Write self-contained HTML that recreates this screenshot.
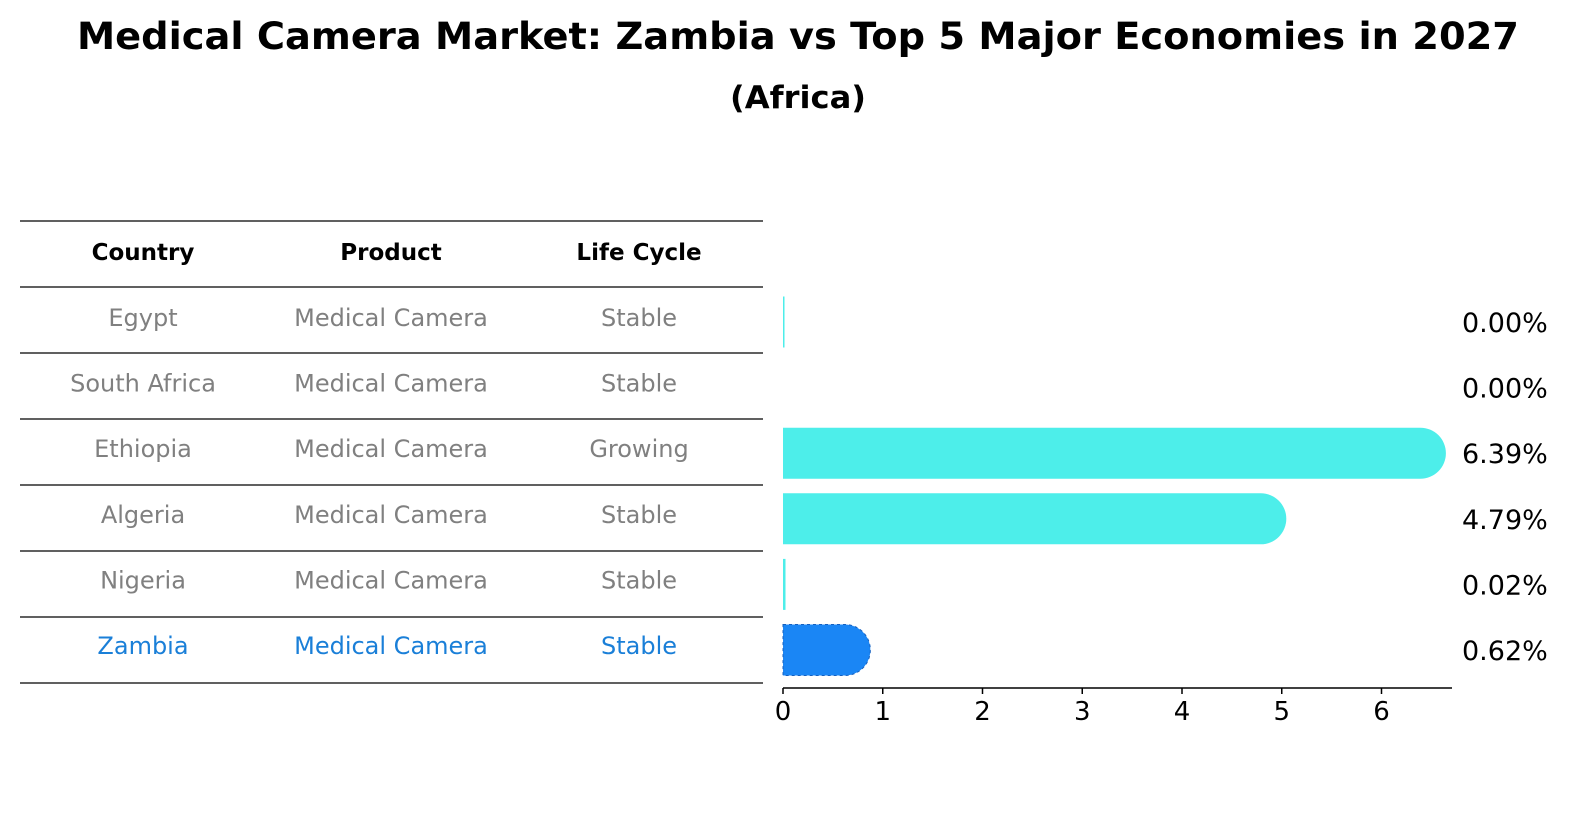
<!DOCTYPE html>
<html><head><meta charset="utf-8"><style>
body{margin:0;background:#fff;width:1586px;height:823px;overflow:hidden;font-family:"Liberation Sans","DejaVu Sans",sans-serif}
</style></head><body>
<svg width="1586" height="823" font-family="DejaVu Sans, Liberation Sans, sans-serif">
<text x="798" y="49" text-anchor="middle" font-size="37" font-weight="bold" textLength="1442" lengthAdjust="spacingAndGlyphs">Medical Camera Market: Zambia vs Top 5 Major Economies in 2027</text>
<text x="798" y="108" text-anchor="middle" font-size="31" font-weight="bold" textLength="136" lengthAdjust="spacingAndGlyphs">(Africa)</text>
<g id="table"></g>
<g id="bars"></g>
</svg>
<script>
const countries=["Egypt","South Africa","Ethiopia","Algeria","Nigeria","Zambia"];
const products=["Medical Camera","Medical Camera","Medical Camera","Medical Camera","Medical Camera","Medical Camera"];
const lifeCycles=["Stable","Stable","Growing","Stable","Stable","Stable"];
const values=[0.00,0.00,6.39,4.79,0.02,0.62];
const ticks=[0,1,2,3,4,5,6];
const NS="http://www.w3.org/2000/svg";
function mk(tag,attrs,parent,text){const e=document.createElementNS(NS,tag);for(const k in attrs)e.setAttribute(k,attrs[k]);if(text!==undefined)e.textContent=text;parent.appendChild(e);return e;}
const x0=783,pxPer=99.75;
const xs=v=>x0+v*pxPer;
const rowY=i=>322+i*65.6;
const tbl=document.getElementById('table');
const cols=[143,391,639];
const hdr=["Country","Product","Life Cycle"];
hdr.forEach((h,j)=>{const t=mk('text',{x:cols[j],y:260,'text-anchor':'middle','font-size':23,'font-weight':'bold'},tbl,h);

});
const lineYs=[221,287,353,419,485,551,617,683];
lineYs.forEach((y,k)=>{const l=mk('line',{x1:20,x2:763,y1:y,y2:y,stroke:'#000','stroke-width':1.2},tbl);

});
countries.forEach((c,i)=>{
 const col=i===5?'#1a7fd8':'#808080';
 const y=rowY(i)+4;
 [c,products[i],lifeCycles[i]].forEach((s,j)=>{
  const t=mk('text',{x:cols[j],y:y,'text-anchor':'middle','font-size':24,fill:col},tbl,s);
  
  
 });
});
const bars=document.getElementById('bars');
const bh=51,r=25.5;
values.forEach((v,i)=>{
 const cy=rowY(i),y=cy-bh/2;
 const fill=i===5?'#1a86f5':'#4deeea';
 const w=xs(v)-x0;
 if(v===0 && i!==0){}else if(w<3){
  const b=mk('rect',{x:x0,y:y,width:Math.max(w,1)+0.5,height:bh,fill:fill},bars);
  
  
 } else {
  const xe=xs(v);
  const d=`M${x0},${y} H${xe} A${r},${r} 0 0 1 ${xe},${y+bh} H${x0} Z`;
  const b=mk('path',{d:d,fill:fill},bars);
  if(i===5){b.setAttribute('stroke','#1560c0');b.setAttribute('stroke-dasharray','3,3');b.setAttribute('stroke-width','1');}
  
  
 }
 const lbl=mk('text',{x:1462,y:cy+10,'font-size':27,fill:'#000'},bars,v.toFixed(2)+'%');
 
 
});
const ax=mk('line',{x1:x0,x2:1452,y1:688,y2:688,stroke:'#000','stroke-width':1.5},bars);


ticks.forEach(t=>{
 const tl=mk('line',{x1:xs(t),x2:xs(t),y1:688,y2:694,stroke:'#000','stroke-width':1.5},bars);
 
 
 const tx=mk('text',{x:xs(t),y:720,'text-anchor':'middle','font-size':26},bars,String(t));
 
 
});
</script>
</body></html>
